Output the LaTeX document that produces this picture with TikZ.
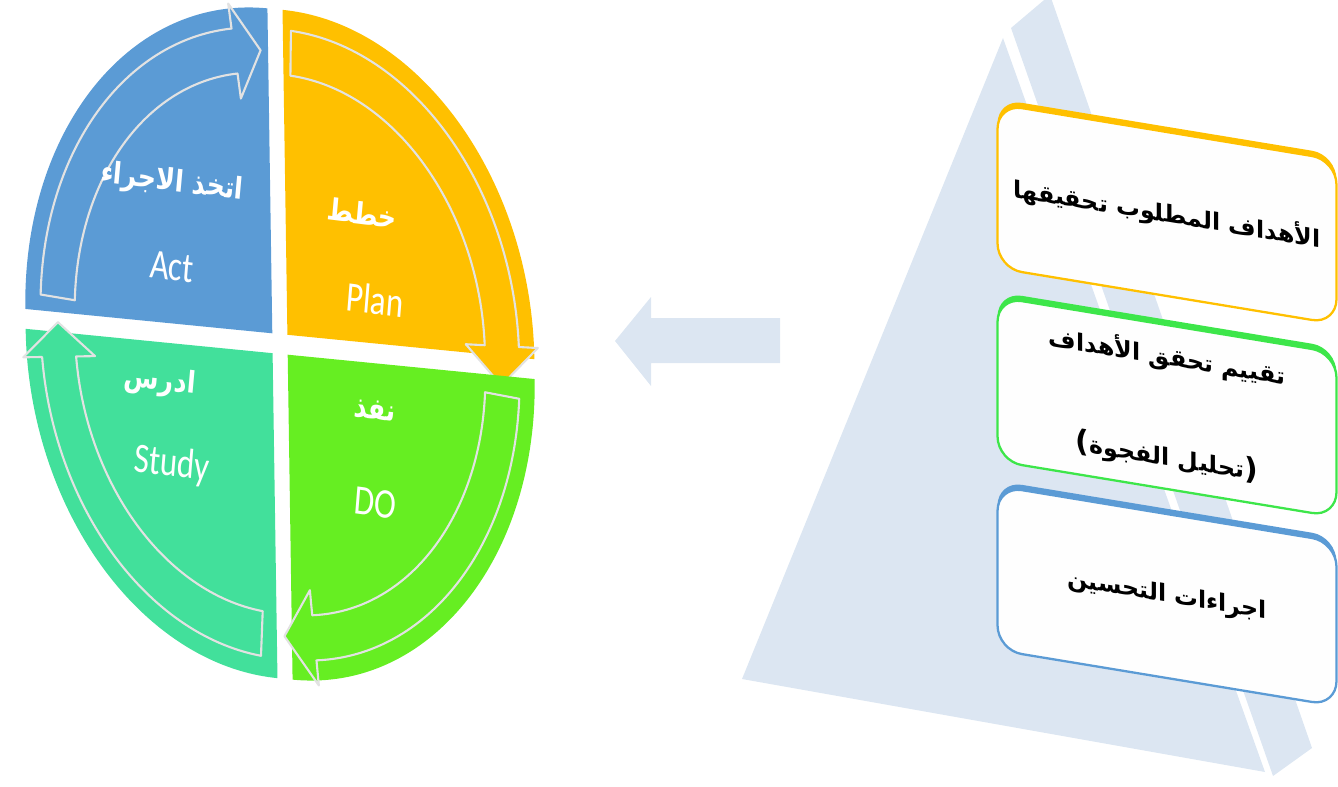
\documentclass[tikz,border=0pt]{standalone}
\usepackage{fontspec}
\setmainfont{Carlito}
\newfontfamily\arabicfont[Script=Arabic]{DejaVu Sans}
\newfontfamily\parenfont{DejaVu Sans}
\TeXXeTstate=1
\definecolor{actblue}{HTML}{5B9BD5}
\definecolor{planorange}{HTML}{FFC000}
\definecolor{dogreen}{HTML}{66EE22}
\definecolor{studyteal}{HTML}{42E09B}
\definecolor{goalgreen}{HTML}{3DE64A}
\definecolor{pyrblue}{HTML}{DCE6F2}
\definecolor{rimgray}{HTML}{E2E2E2}
\tikzset{
  quarter/.style={fill=#1},
  rimarrow/.style={fill=#1, draw=rimgray, line width=1.2pt, line join=round},
  qlabel/.style={text=white, font=\fontsize{24}{26}\selectfont, xscale=.78, rotate=-6},
  alabel/.style={text=white, font=\arabicfont\bfseries\fontsize{17}{20}\selectfont, xscale=.85, rotate=-6},
  goalbox/.style={draw=#1, line width=1.3pt, rounded corners=14pt, fill=white!96!pyrblue,
    minimum width=6.78cm, minimum height=3.28cm, transform shape, align=center,
    font=\arabicfont\bfseries\fontsize{13.5}{16}\selectfont,
    preaction={fill=#1, transform canvas={yshift=3pt}}}
}
% band along the rim: start angle, head angle, tip angle, colour
\newcommand{\cyclearrow}[4]{%
  \draw[rimarrow=#4] (#1:6.1cm) arc[start angle=#1, end angle=#2, radius=6.1cm]
    -- (#2:6.6cm) -- (#3:5.65cm) -- (#2:4.7cm) -- (#2:5.2cm)
    arc[start angle=#2, end angle=#1, radius=5.2cm] -- cycle;}

\begin{document}
\begin{tikzpicture}[x=0.02cm, y=-0.02cm]
  \useasboundingbox (0,0) rectangle (1338,787);

  % pyramid behind the boxes
  \fill[pyrblue] (1011,28) -- (1050,-5) -- (1312,748) -- (1273,776) -- cycle;
  \fill[pyrblue] (1003,38) -- (1265,772) -- (742,679) -- cycle;

  % block arrow
  \fill[pyrblue] (615,341) -- (651,297) -- (651,318) -- (780,318)
    -- (780,363) -- (651,363) -- (651,386) -- cycle;

  % goal boxes
  \begin{scope}[shift={(997,0)}, yslant=-0.165]
    \node[goalbox=planorange] (goals) at (170,186) {\beginR الأهداف المطلوب تحقيقها\endR};
    \node[goalbox=goalgreen] (gap) at (170,379)
      {\beginR تقييم تحقق الأهداف\endR\\[40pt]{\parenfont\fontsize{17}{16}\selectfont(}\beginR تحليل الفجوة\endR{\parenfont\fontsize{17}{16}\selectfont)}};
    \node[goalbox=actblue] (improve) at (170,568) {\beginR اجراءات التحسين\endR};
  \end{scope}

  % PDCA cycle
  \begin{scope}[shift={(280,344)}, cm={0.76,-0.075,-0.015,1,(0,0)}]
    \begin{scope}[shift={(45:8pt)}]
      \fill[quarter=planorange] (0,0) -- (0:6.5cm) arc[start angle=0, end angle=90, radius=6.5cm] -- cycle;
      \cyclearrow{88}{2}{-6}{planorange}
    \end{scope}
    \begin{scope}[shift={(-45:8pt)}]
      \fill[quarter=dogreen] (0,0) -- (270:6.5cm) arc[start angle=270, end angle=360, radius=6.5cm] -- cycle;
      \cyclearrow{356}{276}{268}{dogreen}
    \end{scope}
    \begin{scope}[shift={(225:8pt)}]
      \fill[quarter=studyteal] (0,0) -- (180:6.5cm) arc[start angle=180, end angle=270, radius=6.5cm] -- cycle;
      \cyclearrow{266}{185}{178}{studyteal}
    \end{scope}
    \begin{scope}[shift={(135:8pt)}]
      \fill[quarter=actblue] (0,0) -- (90:6.5cm) arc[start angle=90, end angle=180, radius=6.5cm] -- cycle;
      \cyclearrow{177}{99}{92}{actblue}
    \end{scope}
  \end{scope}

  % labels of the cycle
  \node[alabel] (act-ar) at (172,183) {\beginR اتخذ الاجراء\endR};
  \node[qlabel] (act-en) at (172,267) {Act};
  \node[alabel] (plan-ar) at (362,213) {\beginR خطط\endR};
  \node[qlabel] (plan-en) at (375,300) {Plan};
  \node[alabel] (study-ar) at (160,382) {\beginR ادرس\endR};
  \node[qlabel] (study-en) at (172,465) {Study};
  \node[alabel] (do-ar) at (375,410) {\beginR نفذ\endR};
  \node[qlabel] (do-en) at (375,503) {DO};
\end{tikzpicture}
\end{document}
